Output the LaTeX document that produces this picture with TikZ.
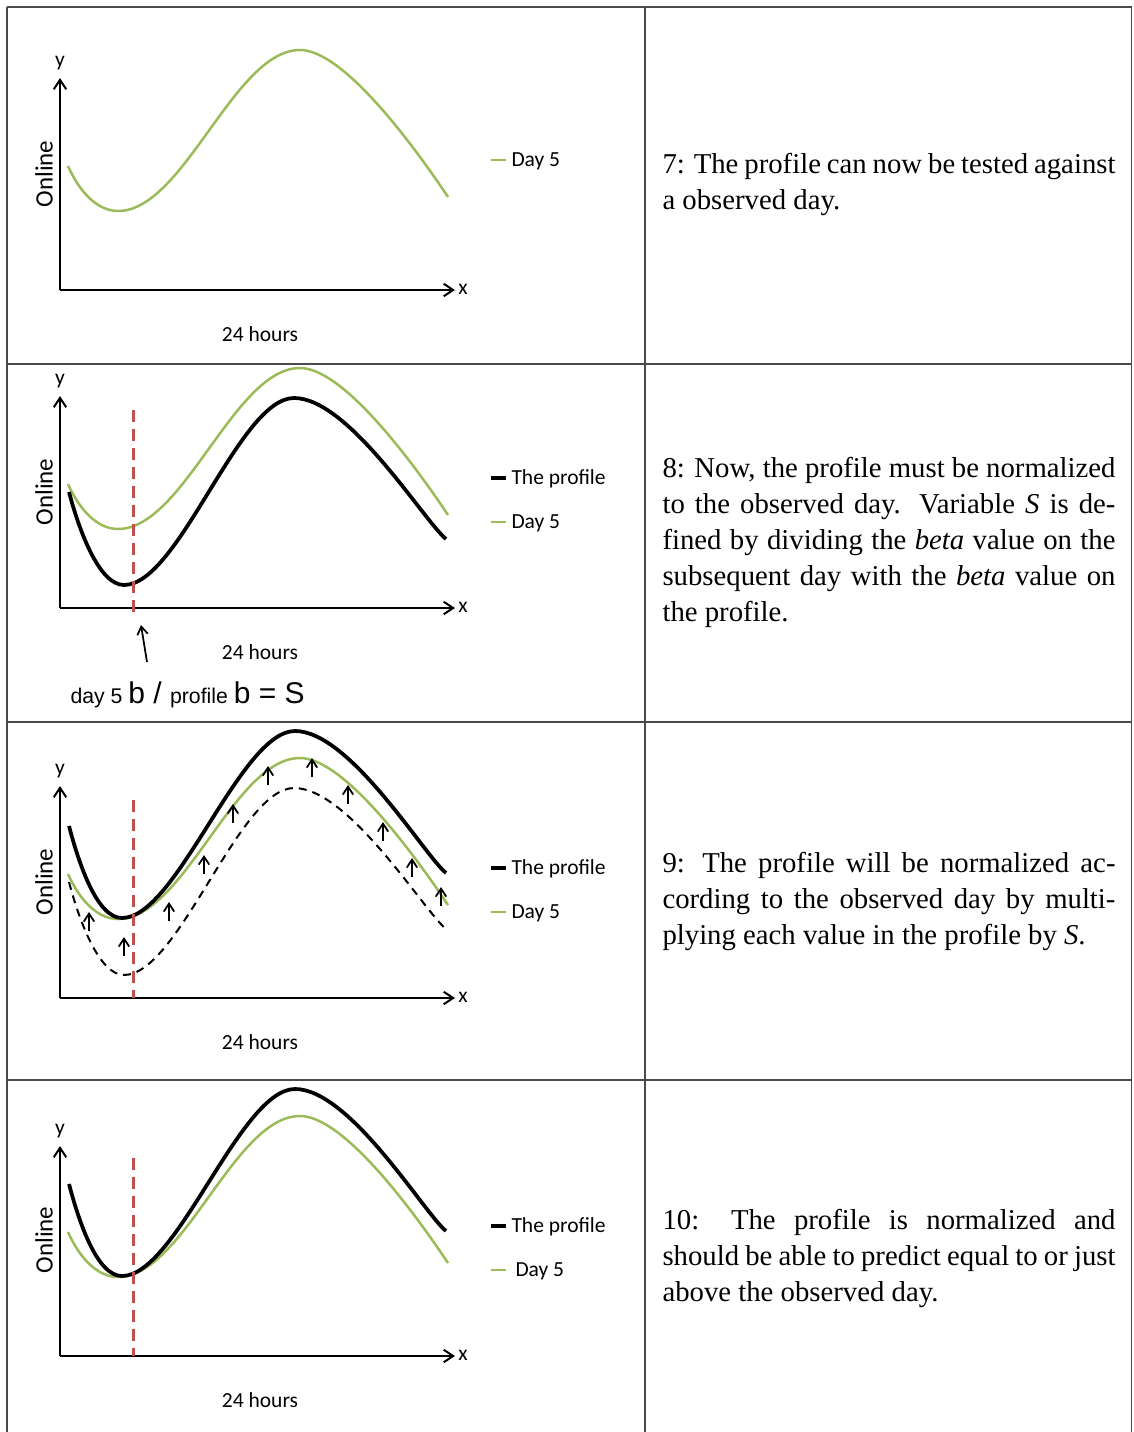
\documentclass[tikz,border=0pt]{standalone}
\usepackage{fontspec}
\setmainfont{Liberation Serif}
\newfontfamily\chartfont{Carlito}
\newfontfamily\notefont{Liberation Sans}
\usetikzlibrary{arrows.meta}
\tolerance=10000
\hbadness=10000
\definecolor{daygreen}{HTML}{9BBB59}
\definecolor{markred}{HTML}{C0504D}
\definecolor{rulegrey}{HTML}{4A4A4A}
\tikzset{
  cellrule/.style={draw=rulegrey,line width=0.6pt},
  axisline/.style={line width=0.8pt,-{Straight Barb[length=3.8pt,width=5pt]}},
  liftarrow/.style={line width=0.7pt,-{Straight Barb[length=3.2pt,width=4.2pt]}},
  daycurve/.style={draw=daygreen,line width=1pt},
  profilecurve/.style={draw=black,line width=1.5pt},
  oldprofile/.style={draw=black,line width=0.8pt,dash pattern=on 3.2pt off 2.4pt},
  daymark/.style={draw=markred,line width=1.2pt,dash pattern=on 4.8pt off 2.8pt},
  axislabel/.style={font=\chartfont\fontsize{8.6}{10}\selectfont,inner sep=0pt},
  onlinelabel/.style={font=\chartfont\fontsize{10}{12}\selectfont,inner sep=0pt,rotate=90},
  legendtext/.style={font=\chartfont\fontsize{8.6}{10}\selectfont,inner sep=0pt,anchor=west},
  steptext/.style={font=\fontsize{11.5}{14.4}\selectfont,text width=181.2pt,align=justify,inner sep=0pt,anchor=west}
}
\begin{document}
\begin{tikzpicture}[x=0.4pt,y=-0.4pt]
  \useasboundingbox (0,0) rectangle (1133,1432);

  % table rules
  \draw[cellrule] (7,7) -- (7,1432);
  \draw[cellrule] (645,7) -- (645,1432);
  \draw[cellrule] (1131.5,7) -- (1131.5,1432);
  \draw[cellrule] (7,7) -- (1131.5,7);
  \draw[cellrule] (7,364) -- (1131.5,364);
  \draw[cellrule] (7,722) -- (1131.5,722);
  \draw[cellrule] (7,1080) -- (1131.5,1080);

  % step 7
  \begin{scope}[shift={(0,0)}]
    \coordinate (orig1) at (60,290);
    \coordinate (ytip1) at (60,78);
    \coordinate (xtip1) at (455,290);
    \draw[axisline] (orig1) -- (ytip1);
    \draw[axisline] (orig1) -- (xtip1);
    \node[axislabel] (ylab1) at (60,63) {y};
    \node[axislabel] (xlab1) at (463,289) {x};
    \node[onlinelabel] (online1) at (44,174) {Online};
    \node[axislabel] (hours1) at (260,334) {24 hours};
    \draw[daycurve] (68,166) .. controls +(12,27) and +(-20,0) .. (118,211) .. controls +(66,0) and +(-66,0) .. (300,50) .. controls +(45,0) and +(-30,-45) .. (448,197);
    \draw[daycurve] (491,160) -- (506,160);
    \node[legendtext] (legday1) at (511,161) {Day 5};
  \end{scope}
  \node[steptext] (note7) at (662,184.5) {7: The profile can now be tested against\linebreak a observed day.};

  % step 8
  \begin{scope}[shift={(0,318)}]
    \coordinate (orig2) at (60,290);
    \coordinate (ytip2) at (60,78);
    \coordinate (xtip2) at (455,290);
    \draw[axisline] (orig2) -- (ytip2);
    \draw[axisline] (orig2) -- (xtip2);
    \node[axislabel] (ylab2) at (60,63) {y};
    \node[axislabel] (xlab2) at (463,289) {x};
    \node[onlinelabel] (online2) at (44,174) {Online};
    \node[axislabel] (hours2) at (260,334) {24 hours};
    \draw[daycurve] (68,166) .. controls +(12,27) and +(-20,0) .. (118,211) .. controls +(66,0) and +(-66,0) .. (300,50) .. controls +(45,0) and +(-30,-45) .. (448,197);
    \draw[profilecurve] (69,174) .. controls +(10,38) and +(-25,0) .. (124,267) .. controls +(55,0) and +(-55,0) .. (294,80) .. controls +(55,0) and +(-22,-18) .. (446,221);
    \draw[daymark] (133,92) -- (133,300);
    \coordinate (btail) at (147,344);
    \coordinate (bhead) at (141,307);
    \draw[liftarrow] (btail) -- (bhead);
    \node[anchor=base west,inner sep=0pt,font=\notefont] (ratio) at (70,385) {{\fontsize{8.5}{10}\selectfont day 5 }{\fontsize{12}{14}\selectfont b / }{\fontsize{8.5}{10}\selectfont profile }{\fontsize{12}{14}\selectfont b = S}};
    \draw[profilecurve] (491,160) -- (506,160);
    \node[legendtext] (legprof2) at (511,161) {The profile};
    \draw[daycurve] (491,204) -- (506,204);
    \node[legendtext] (legday2) at (511,205) {Day 5};
  \end{scope}
  \node[steptext] (note8) at (662,542) {8: Now, the profile must be normalized\linebreak to the observed day. Variable \textit{S} is de-\linebreak fined by dividing the \textit{beta} value on the\linebreak subsequent day with the \textit{beta} value on\linebreak the profile.};

  % step 9
  \begin{scope}[shift={(0,708)}]
    \coordinate (orig3) at (60,290);
    \coordinate (ytip3) at (60,78);
    \coordinate (xtip3) at (455,290);
    \draw[axisline] (orig3) -- (ytip3);
    \draw[axisline] (orig3) -- (xtip3);
    \node[axislabel] (ylab3) at (60,63) {y};
    \node[axislabel] (xlab3) at (463,289) {x};
    \node[onlinelabel] (online3) at (44,174) {Online};
    \node[axislabel] (hours3) at (260,334) {24 hours};
    \draw[oldprofile] (69,174) .. controls +(10,38) and +(-25,0) .. (124,267) .. controls +(55,0) and +(-55,0) .. (294,80) .. controls +(55,0) and +(-22,-18) .. (446,221);
    \draw[daycurve] (68,166) .. controls +(12,27) and +(-20,0) .. (118,211) .. controls +(66,0) and +(-66,0) .. (300,50) .. controls +(45,0) and +(-30,-45) .. (448,197);
    \draw[profilecurve] (69,118) .. controls +(10,38) and +(-25,0) .. (122,210) .. controls +(55,0) and +(-55,0) .. (295,23) .. controls +(55,0) and +(-22,-18) .. (446,165);
    \foreach \ax/\ay in {89/204,124/229,169/194,204/147,233/96,268/58,312/50,348/77,383/114,412/150,441/179}
      \draw[liftarrow] (\ax,\ay+19) -- (\ax,\ay);
    \draw[daymark] (133,92) -- (133,290);
    \draw[profilecurve] (491,160) -- (506,160);
    \node[legendtext] (legprof3) at (511,161) {The profile};
    \draw[daycurve] (491,204) -- (506,204);
    \node[legendtext] (legday3) at (511,205) {Day 5};
  \end{scope}
  \node[steptext] (note9) at (662,901) {9: The profile will be normalized ac-\linebreak cording to the observed day by multi-\linebreak plying each value in the profile by \textit{S}.};

  % step 10
  \begin{scope}[shift={(0,1066)}]
    \coordinate (orig4) at (60,290);
    \coordinate (ytip4) at (60,80);
    \coordinate (xtip4) at (455,290);
    \draw[axisline] (orig4) -- (ytip4);
    \draw[axisline] (orig4) -- (xtip4);
    \node[axislabel] (ylab4) at (60,65) {y};
    \node[axislabel] (xlab4) at (463,289) {x};
    \node[onlinelabel] (online4) at (44,174) {Online};
    \node[axislabel] (hours4) at (260,334) {24 hours};
    \draw[daycurve] (68,166) .. controls +(12,27) and +(-20,0) .. (118,211) .. controls +(66,0) and +(-66,0) .. (300,50) .. controls +(45,0) and +(-30,-45) .. (448,197);
    \draw[profilecurve] (69,118) .. controls +(10,38) and +(-25,0) .. (122,210) .. controls +(55,0) and +(-55,0) .. (295,23) .. controls +(55,0) and +(-22,-18) .. (446,165);
    \draw[daymark] (133,92) -- (133,290);
    \draw[profilecurve] (491,160) -- (506,160);
    \node[legendtext] (legprof4) at (511,161) {The profile};
    \draw[daycurve] (491,204) -- (506,204);
    \node[legendtext] (legday4) at (515,205) {Day 5};
  \end{scope}
  \node[steptext] (note10) at (662,1258) {10: The profile is normalized and\linebreak should be able to predict equal to or just\linebreak above the observed day.};
\end{tikzpicture}
\end{document}
